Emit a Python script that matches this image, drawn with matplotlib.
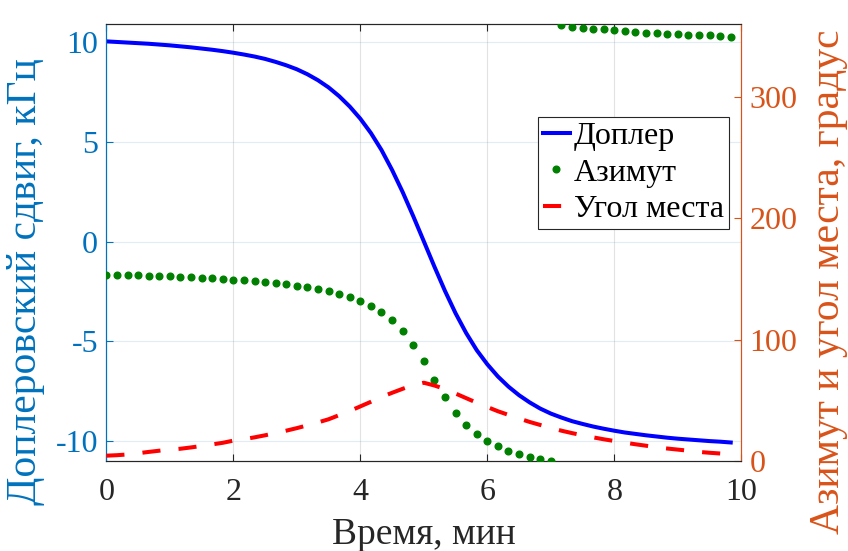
import matplotlib
matplotlib.use("Agg")
import matplotlib.pyplot as plt
import numpy as np
from matplotlib.lines import Line2D

plt.rcParams['font.family'] = ['Liberation Serif', 'DejaVu Serif']

# time, minutes (10 s step)
time_min = [k / 6 for k in range(60)]

doppler_khz = [10.05, 10.02, 9.99, 9.96, 9.93, 9.89, 9.85, 9.80, 9.75, 9.69,
               9.63, 9.56, 9.48, 9.39, 9.29, 9.17, 9.02, 8.85, 8.65, 8.40,
               8.10, 7.74, 7.30, 6.78, 6.17, 5.45, 4.60, 3.60, 2.49, 1.28,
               0.02, -1.25, -2.47, -3.59, -4.58, -5.44, -6.15, -6.76, -7.27, -7.70,
               -8.06, -8.37, -8.62, -8.82, -9.00, -9.14, -9.27, -9.38, -9.48, -9.57,
               -9.64, -9.71, -9.77, -9.83, -9.88, -9.92, -9.96, -10.00, -10.03, -10.07]

azimuth_deg = [153.6, 153.5, 153.3, 153.1, 152.8, 152.5, 152.2, 151.8, 151.4, 151.0,
               150.5, 150.0, 149.4, 148.8, 148.1, 147.4, 146.5, 145.5, 144.4, 143.1,
               141.6, 139.8, 137.7, 135.2, 132.1, 128.1, 123.1, 116.2, 107.0, 95.9,
               82.5, 66.8, 53.0, 39.8, 29.7, 22.0, 16.8, 12.1, 8.5, 5.8,
               3.0, 1.4, 0.3, 358.8, 357.4, 356.6, 356.1, 355.5, 354.7, 353.9,
               353.3, 353.0, 352.2, 352.0, 351.7, 351.1, 350.9, 350.6, 350.3, 349.7]

elevation_deg = [4.4, 4.8, 5.4, 6.4, 7.5, 8.5, 9.5, 10.1, 11.2, 12.4,
                 13.7, 15.0, 16.8, 18.0, 19.5, 21.2, 23.0, 25.0, 27.1, 29.4,
                 31.8, 34.4, 37.8, 41.2, 45.0, 48.8, 52.8, 56.2, 59.5, 62.5,
                 64.5, 62.2, 59.3, 55.6, 51.8, 48.0, 44.5, 41.0, 38.0, 35.0,
                 32.2, 29.7, 27.2, 25.0, 23.0, 21.2, 19.5, 17.9, 16.5, 15.1,
                 13.8, 12.6, 11.2, 10.3, 9.4, 8.5, 7.5, 6.8, 6.2, 5.5]

x_ticks = [0, 2, 4, 6, 8, 10]
left_ticks = [-10, -5, 0, 5, 10]
right_ticks = [0, 100, 200, 300]

labels = ['Доплер', 'Азимут', 'Угол места']
xlabel = 'Время, мин'
ylabel_left = 'Доплеровский сдвиг, кГц'
ylabel_right = 'Азимут и угол места, градус'

c_left = '#0072BD'
c_right = '#D95319'
c_dark = '#262626'

fig = plt.figure(figsize=(8.48, 5.51), dpi=100)
ax = fig.add_axes([0.1254, 0.1633, 0.7488, 0.7931])
ax2 = ax.twinx()

ax.set_xlim(0, 10)
ax.set_ylim(-11.0, 10.92)
ax2.set_ylim(0, 360)

# grid
for xv in x_ticks:
    ax.axvline(xv, color=c_dark, alpha=0.13, lw=0.8, zorder=0)
for yv in left_ticks:
    ax.axhline(yv, color=c_left, alpha=0.12, lw=0.8, zorder=0)

ld, = ax.plot(time_min, doppler_khz, color=(0, 0, 1), lw=2.9, zorder=3)
la, = ax2.plot(time_min, azimuth_deg, linestyle='none', marker='o', ms=4.8,
               color=(0, 0.5, 0), zorder=3)
le, = ax2.plot(time_min, elevation_deg, color=(1, 0, 0), lw=2.9,
               dashes=(4.5, 4.5), dash_capstyle='butt', zorder=3)

fs = 23
ax.set_xticks(x_ticks)
ax.set_xticklabels([str(v) for v in x_ticks], fontsize=fs, color=c_dark)
ax.set_yticks(left_ticks)
ax.set_yticklabels([str(v) for v in left_ticks], fontsize=fs, color=c_left)
ax2.set_yticks(right_ticks)
ax2.set_yticklabels([str(v) for v in right_ticks], fontsize=fs, color=c_right)

ax.tick_params(axis='x', direction='in', length=5, width=0.8, color=c_dark,
               top=True, pad=12)
ax.tick_params(axis='y', direction='in', length=5, width=0.8, color=c_left, pad=6)
ax2.tick_params(axis='y', direction='in', length=5, width=0.8, color=c_right, pad=6)

for a in (ax, ax2):
    a.spines['top'].set_color(c_dark)
    a.spines['bottom'].set_color(c_dark)
    a.spines['left'].set_color(c_left)
    a.spines['right'].set_color(c_right)
    for s in a.spines.values():
        s.set_linewidth(0.8)

ax.set_xlabel(xlabel, fontsize=27, color=c_dark, labelpad=8)
ax.set_ylabel(ylabel_left, fontsize=30, color=c_left)
ax.yaxis.set_label_coords(-0.097, 0.41)
ax2.set_ylabel(ylabel_right, fontsize=30, color=c_right, rotation=90)
ax2.yaxis.set_label_coords(1.108, 0.41)

handles = [Line2D([], [], color=(0, 0, 1), lw=2.9),
           Line2D([], [], linestyle='none', marker='o', ms=4.8, color=(0, 0.5, 0)),
           Line2D([], [], color=(1, 0, 0), lw=2.9, dashes=(4.5, 4.5))]
leg = ax2.legend(handles, labels, loc='upper left', bbox_to_anchor=(0.68, 0.787),
                 fontsize=23, frameon=True, fancybox=False, framealpha=1,
                 edgecolor=c_dark, handlelength=0.85, handletextpad=0.12,
                 borderpad=0.15, labelspacing=0.22, borderaxespad=0)
leg.get_frame().set_linewidth(0.8)
leg.set_zorder(10)

fig.savefig('out.png', dpi=100)
